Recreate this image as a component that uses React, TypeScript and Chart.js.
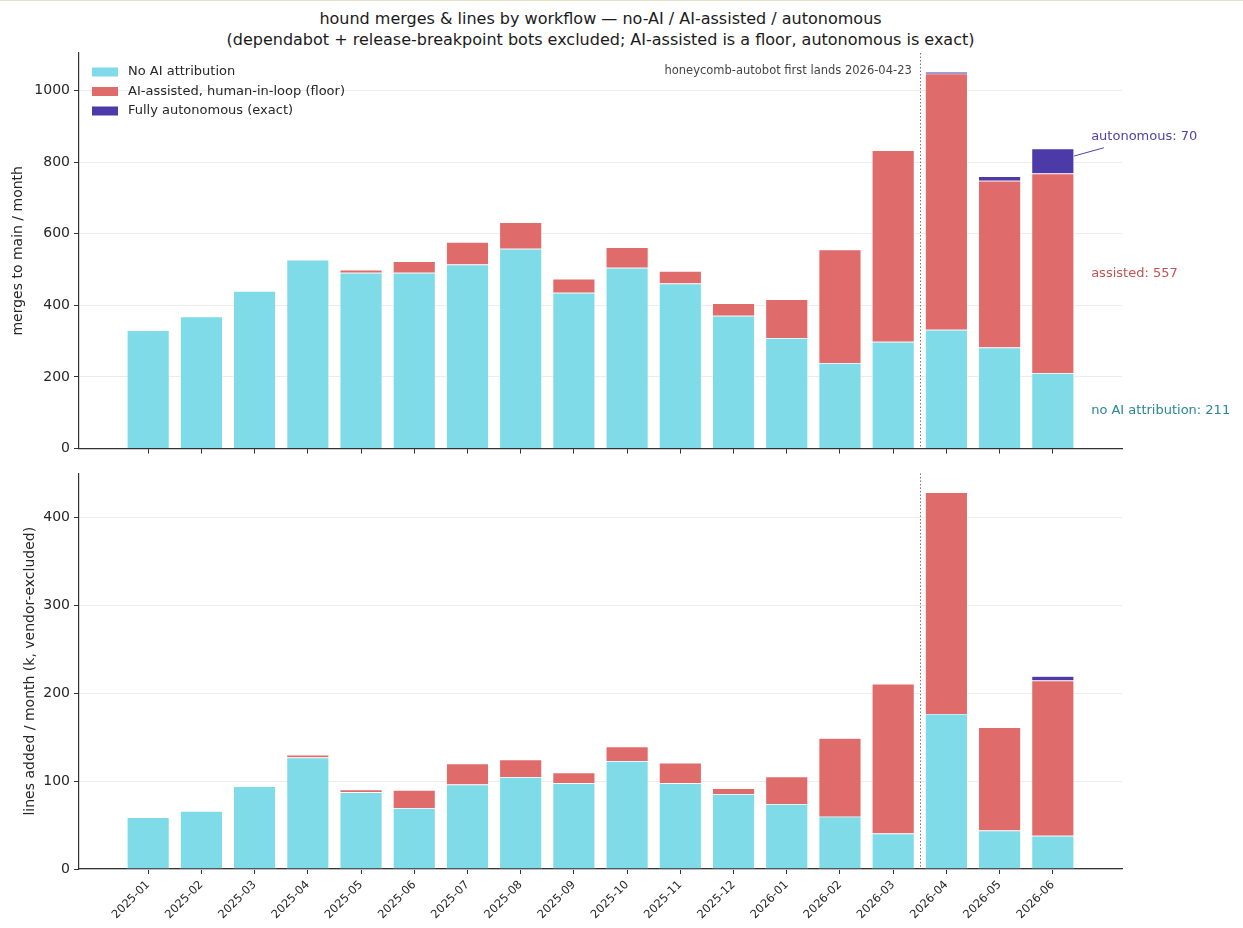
import React, { useEffect, useRef } from "react";
import { Chart, registerables } from "chart.js";

Chart.register(...registerables);

// ---------- data ----------
const months = [
  "2025-01", "2025-02", "2025-03", "2025-04", "2025-05", "2025-06",
  "2025-07", "2025-08", "2025-09", "2025-10", "2025-11", "2025-12",
  "2026-01", "2026-02", "2026-03", "2026-04", "2026-05", "2026-06",
];
const mergesNoAI = [330, 369, 440, 527, 491, 491, 514, 558, 435, 505, 461, 371, 309, 239, 298, 332, 282, 211];
const mergesAssisted = [0, 0, 0, 1, 8, 32, 63, 74, 39, 57, 35, 35, 108, 317, 535, 715, 466, 557];
const mergesAutonomous = [0, 0, 0, 0, 0, 0, 0, 0, 0, 0, 0, 0, 0, 0, 0, 5, 12, 70];

const linesNoAI = [59, 66, 94.2, 127, 87.3, 69.3, 96.2, 104.6, 97.7, 123, 97.7, 85.4, 73.9, 59.6, 40.4, 176.6, 43.9, 37.8];
const linesAssisted = [0, 0, 0, 3, 3.1, 20.7, 23.8, 20.1, 12, 16.3, 23.1, 6.6, 31.5, 89.4, 170.5, 252.4, 117.4, 176.9];
const linesAutonomous = [0, 0, 0, 0, 0, 0, 0, 0, 0, 0, 0, 0, 0, 0, 0, 0, 0, 4.9];

const legendLabels = ["No AI attribution", "AI-assisted, human-in-loop (floor)", "Fully autonomous (exact)"];
const mergesTicks = [0, 200, 400, 600, 800, 1000];
const linesTicks = [0, 100, 200, 300, 400];
const titleLines = [
  "hound merges & lines by workflow \u2014 no-AI / AI-assisted / autonomous",
  "(dependabot + release-breakpoint bots excluded; AI-assisted is a floor, autonomous is exact)",
];
const markerIndex = 14.5;
const markerText = "honeycomb-autobot first lands 2026-04-23";
const mergesAxisTitle = "merges to main / month";
const linesAxisTitle = "lines added / month (k, vendor-excluded)";

// ---------- styles ----------
const FONT = "'DejaVu Sans', Verdana, sans-serif";
const C_NOAI = "#80dbe8";
const C_ASSIST = "#e06b6b";
const C_AUTO = "#4b3aa8";
const T_NOAI = "#2a8797";
const T_ASSIST = "#c45252";
const T_AUTO = "#4f44a3";
const AXIS = "#333333";
const TICK_TXT = "#262626";
const W = 1243;
const PLOT_LEFT = 79;
const PLOT_RIGHT = 1122;
const X_MIN = -1.3;
const X_MAX = months.length - 1 + 1.3;

function drawMarker(chart: any) {
  const { ctx, chartArea, scales } = chart;
  const px = scales.x.getPixelForValue(markerIndex);
  ctx.save();
  ctx.strokeStyle = "#777";
  ctx.lineWidth = 1;
  ctx.setLineDash([1.5, 2]);
  ctx.beginPath();
  ctx.moveTo(Math.round(px) + 0.5, chartArea.top);
  ctx.lineTo(Math.round(px) + 0.5, chartArea.bottom);
  ctx.stroke();
  ctx.restore();
}

const bottomPlugin = {
  id: "bottomDecor",
  afterDatasetsDraw(chart: any) {
    drawMarker(chart);
  },
};

const topPlugin = {
  id: "topDecor",
  afterDatasetsDraw(chart: any) {
    const { ctx, chartArea, scales } = chart;
    const x = scales.x;
    const y = scales.y;
    drawMarker(chart);
    ctx.save();
    // marker caption
    ctx.font = `11.5px ${FONT}`;
    ctx.fillStyle = "#444";
    ctx.textAlign = "right";
    ctx.textBaseline = "middle";
    ctx.fillText(markerText, x.getPixelForValue(markerIndex) - 8, chartArea.top + 18);

    // legend
    const colors = [C_NOAI, C_ASSIST, C_AUTO];
    ctx.font = `13px ${FONT}`;
    ctx.textAlign = "left";
    legendLabels.forEach((lab, i) => {
      const cy = chartArea.top + 19 + i * 19.5;
      ctx.fillStyle = colors[i];
      ctx.fillRect(chartArea.left + 13, cy - 4.5, 26, 9);
      ctx.fillStyle = TICK_TXT;
      ctx.fillText(lab, chartArea.left + 49, cy);
    });

    // right-side annotations for last month
    const last = months.length - 1;
    const n = mergesNoAI[last];
    const a = mergesAssisted[last];
    const u = mergesAutonomous[last];
    const lx = x.getPixelForValue(last + 0.72);
    ctx.font = `13px ${FONT}`;
    ctx.fillStyle = T_NOAI;
    ctx.fillText(`no AI attribution: ${n}`, lx, y.getPixelForValue(n / 2));
    ctx.fillStyle = T_ASSIST;
    ctx.fillText(`assisted: ${a}`, lx, y.getPixelForValue(n + a / 2));
    ctx.fillStyle = T_AUTO;
    ctx.fillText(`autonomous: ${u}`, lx, y.getPixelForValue(n + a + u + 33));
    ctx.strokeStyle = T_AUTO;
    ctx.lineWidth = 1;
    ctx.beginPath();
    ctx.moveTo(x.getPixelForValue(last + 0.4), y.getPixelForValue(n + a + u * 0.7));
    ctx.lineTo(x.getPixelForValue(last + 0.96), y.getPixelForValue(n + a + u + 2));
    ctx.stroke();
    ctx.restore();
  },
};

function makeDatasets(noAI: number[], assisted: number[], auto: number[]) {
  const mk = (label: string, vals: number[], color: string) => ({
    label,
    data: vals.map((v, i) => ({ x: i, y: v })),
    backgroundColor: color,
    borderColor: "rgba(255,255,255,0.85)",
    borderWidth: 0.7,
    borderSkipped: "start",
    categoryPercentage: 1,
    barPercentage: 0.8,
  });
  return [
    mk(legendLabels[0], noAI, C_NOAI),
    mk(legendLabels[1], assisted, C_ASSIST),
    mk(legendLabels[2], auto, C_AUTO),
  ];
}

function makeOptions(opts: {
  yMax: number;
  yTicks: number[];
  yTitle: string;
  yTitlePad: number;
  showXLabels: boolean;
  padTop: number;
  xHeight: number;
}) {
  return {
    animation: false,
    responsive: false,
    maintainAspectRatio: false,
    events: [],
    layout: { padding: { top: opts.padTop, right: W - PLOT_RIGHT, left: 0, bottom: 0 } },
    plugins: { legend: { display: false }, tooltip: { enabled: false }, title: { display: false } },
    scales: {
      x: {
        type: "linear",
        stacked: true,
        min: X_MIN,
        max: X_MAX,
        offset: false,
        afterBuildTicks: (scale: any) => {
          scale.ticks = months.map((_, i) => ({ value: i }));
        },
        afterFit: (scale: any) => {
          scale.height = opts.xHeight;
        },
        grid: {
          display: true,
          offset: false,
          drawOnChartArea: false,
          drawTicks: true,
          tickLength: 5,
          tickColor: AXIS,
          tickWidth: 1,
        },
        border: { display: true, color: AXIS, width: 1.2 },
        ticks: {
          autoSkip: false,
          minRotation: 45,
          maxRotation: 45,
          padding: 4,
          color: TICK_TXT,
          font: { family: FONT, size: 11.5 },
          callback: (v: any) => (opts.showXLabels ? months[Math.round(v)] ?? "" : ""),
        },
      },
      y: {
        type: "linear",
        stacked: true,
        min: 0,
        max: opts.yMax,
        afterBuildTicks: (scale: any) => {
          scale.ticks = opts.yTicks.map((v) => ({ value: v }));
        },
        afterFit: (scale: any) => {
          scale.width = PLOT_LEFT;
        },
        grid: {
          color: "#ececec",
          lineWidth: 1,
          drawTicks: true,
          tickLength: 5,
          tickColor: AXIS,
          tickWidth: 1,
        },
        border: { display: true, color: AXIS, width: 1.2 },
        ticks: {
          padding: 4,
          color: TICK_TXT,
          font: { family: FONT, size: 14 },
          callback: (v: any) => String(v),
        },
        title: {
          display: true,
          text: opts.yTitle,
          color: TICK_TXT,
          font: { family: FONT, size: 14 },
          padding: { top: opts.yTitlePad, bottom: 0 },
        },
      },
    },
  };
}

function totalsMax(a: number[], b: number[], c: number[]) {
  return Math.max(...a.map((v, i) => v + b[i] + c[i]));
}

export default function App() {
  const topRef = useRef<HTMLCanvasElement>(null);
  const botRef = useRef<HTMLCanvasElement>(null);

  useEffect(() => {
    const top = new Chart(topRef.current as HTMLCanvasElement, {
      type: "bar",
      data: { datasets: makeDatasets(mergesNoAI, mergesAssisted, mergesAutonomous) as any },
      options: makeOptions({
        yMax: totalsMax(mergesNoAI, mergesAssisted, mergesAutonomous) * 1.05,
        yTicks: mergesTicks,
        yTitle: mergesAxisTitle,
        yTitlePad: 10,
        showXLabels: false,
        padTop: 53,
        xHeight: 12,
      }) as any,
      plugins: [topPlugin],
    });
    const bot = new Chart(botRef.current as HTMLCanvasElement, {
      type: "bar",
      data: { datasets: makeDatasets(linesNoAI, linesAssisted, linesAutonomous) as any },
      options: makeOptions({
        yMax: totalsMax(linesNoAI, linesAssisted, linesAutonomous) * 1.05,
        yTicks: linesTicks,
        yTitle: linesAxisTitle,
        yTitlePad: 22,
        showXLabels: true,
        padTop: 12,
        xHeight: 60,
      }) as any,
      plugins: [bottomPlugin],
    });
    return () => {
      top.destroy();
      bot.destroy();
    };
  }, []);

  return (
    <div style={{ position: "absolute", left: 0, top: 0, width: W, height: 928, background: "#fff", overflow: "hidden" }}>
      <div style={{ position: "absolute", left: 0, top: 0, width: W, height: 1, background: "#eadfca" }} />
      <div
        style={{
          position: "absolute",
          left: PLOT_LEFT,
          width: PLOT_RIGHT - PLOT_LEFT,
          top: 8,
          textAlign: "center",
          fontFamily: FONT,
          fontSize: 16,
          lineHeight: "21px",
          color: "#1a1a1a",
          whiteSpace: "nowrap",
        }}
      >
        {titleLines.map((t, i) => (
          <div key={i}>{t}</div>
        ))}
      </div>
      <canvas
        ref={topRef}
        width={W}
        height={461}
        style={{ position: "absolute", left: 0, top: 0, width: W, height: 461 }}
      />
      <canvas
        ref={botRef}
        width={W}
        height={468}
        style={{ position: "absolute", left: 0, top: 461, width: W, height: 468 }}
      />
    </div>
  );
}
